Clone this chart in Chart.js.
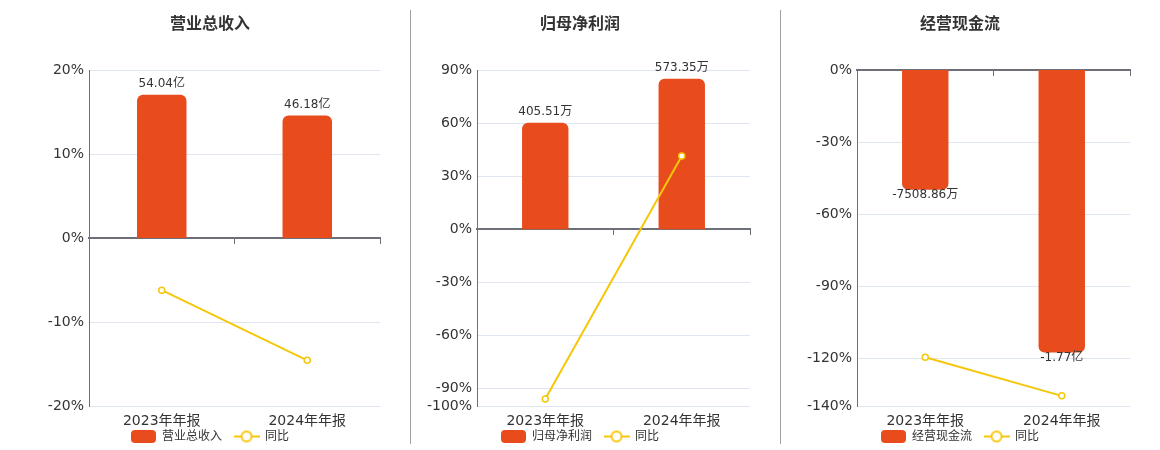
<!DOCTYPE html>
<html>
<head>
<meta charset="utf-8">
<script src="https://cdn.jsdelivr.net/npm/chart.js@4/dist/chart.umd.min.js"></script>
<style>
  body { margin: 0; background: #fff; overflow: hidden; }
  #wrap { position: relative; width: 1160px; height: 450px; overflow: hidden; }
  .panel { position: absolute; top: 0; }
  .sep { position: absolute; top: 10px; width: 1px; height: 434px; background: #a0a0a0; }
</style>
</head>
<body>
<div id="wrap">
  <div class="panel" style="left:36px"><canvas id="c1" width="350" height="471"></canvas></div>
  <div class="panel" style="left:406px"><canvas id="c2" width="350" height="471"></canvas></div>
  <div class="panel" style="left:786px"><canvas id="c3" width="350" height="471"></canvas></div>
  <div class="sep" style="left:410px"></div>
  <div class="sep" style="left:780px"></div>
</div>
<script>
// data
const categories = ['2023年年报', '2024年年报'];

const revenueValues = [54.04, 46.18];          // 亿
const revenueLabels = ['54.04亿', '46.18亿'];
const revenueYoy = [-6.2, -14.54];             // %
const revenueTicks = [-20, -10, 0, 10, 20];

const profitValues = [405.51, 573.35];         // 万
const profitLabels = ['405.51万', '573.35万'];
const profitYoy = [-95.9, 41.39];
const profitTicks = [-100, -90, -60, -30, 0, 30, 60, 90];

const cashValues = [-7508.86, -17700];         // 万
const cashLabels = ['-7508.86万', '-1.77亿'];
const cashYoy = [-119.6, -135.7];
const cashTicks = [-140, -120, -90, -60, -30, 0];

const BAR_COLOR = '#E84C1D';
const LINE_COLOR = '#F5C70A';
const AXIS_COLOR = '#6E7079';
const GRID_COLOR = '#E0E6F1';

Chart.defaults.font.family = '"DejaVu Sans", "Noto Sans CJK SC", sans-serif';
Chart.defaults.color = '#333';

// legend icons: rounded box for bars, line with hollow circle for 同比
function barIcon() {
  const c = document.createElement('canvas');
  c.width = 25; c.height = 13;
  const g = c.getContext('2d');
  g.fillStyle = BAR_COLOR;
  g.beginPath();
  g.roundRect(0, 0, 25, 13, 4);
  g.fill();
  return c;
}
function lineIcon() {
  const c = document.createElement('canvas');
  c.width = 26; c.height = 14;
  const g = c.getContext('2d');
  g.strokeStyle = LINE_COLOR;
  g.lineWidth = 2;
  g.beginPath();
  g.moveTo(0, 7); g.lineTo(26, 7);
  g.stroke();
  g.beginPath();
  g.arc(13, 7, 5, 0, Math.PI * 2);
  g.fillStyle = '#fff';
  g.fill();
  g.stroke();
  return c;
}
const icons = [barIcon(), lineIcon()];

// bar value text above (or below) each bar
const valueLabels = {
  id: 'valueLabels',
  afterDatasetsDraw(chart, args, opts) {
    const ctx = chart.ctx;
    const meta = chart.getDatasetMeta(0);
    const vals = chart.data.datasets[0].data;
    ctx.save();
    ctx.font = '12px "DejaVu Sans", "Noto Sans CJK SC", sans-serif';
    ctx.fillStyle = '#333';
    ctx.textAlign = 'center';
    meta.data.forEach((bar, i) => {
      if (vals[i] >= 0) {
        ctx.textBaseline = 'bottom';
        ctx.fillText(opts.labels[i], bar.x, bar.y - 5);
      } else {
        ctx.textBaseline = 'top';
        ctx.fillText(opts.labels[i], bar.x, bar.y - 1);
      }
    });
    ctx.restore();
  }
};

// pull the legend up closer to the category labels
const legendLift = {
  id: 'legendLift',
  afterLayout(chart) {
    chart.legend.top -= 18.5;
    chart.legend.bottom -= 18.5;
  }
};

function makePanel(canvasId, title, name, values, labels, yoy, ticks, perPct, yWidth) {
  const lo = ticks[0], hi = ticks[ticks.length - 1];
  return new Chart(document.getElementById(canvasId), {
    data: {
      labels: categories,
      datasets: [
        {
          type: 'bar',
          label: name,
          data: values,
          yAxisID: 'yb',
          backgroundColor: BAR_COLOR,
          borderRadius: 6,
          barPercentage: 0.34,
          categoryPercentage: 1,
          order: 1
        },
        {
          type: 'line',
          label: '同比',
          data: yoy,
          yAxisID: 'y',
          borderColor: LINE_COLOR,
          borderWidth: 2,
          pointRadius: 3,
          pointBackgroundColor: '#fff',
          pointBorderColor: LINE_COLOR,
          pointBorderWidth: 1.5,
          order: 0
        }
      ]
    },
    plugins: [valueLabels, legendLift],
    options: {
      responsive: false,
      animation: false,
      layout: { padding: { left: 4, right: 6, top: 0, bottom: 0 } },
      scales: {
        x: {
          type: 'category',
          offset: true,
          grid: { display: false, drawTicks: false },
          border: { display: false },
          ticks: { padding: 7, font: { size: 14 }, color: '#333' }
        },
        x2: {
          type: 'category',
          position: { y: 0 },
          offset: true,
          grid: { offset: true, drawOnChartArea: false, drawTicks: true, tickLength: 5, tickColor: AXIS_COLOR, tickWidth: 1 },
          border: { color: AXIS_COLOR, width: 2 },
          ticks: { display: false },
          z: 1
        },
        y: {
          position: 'left',
          min: lo,
          max: hi,
          grid: { color: GRID_COLOR, drawTicks: false },
          border: { color: AXIS_COLOR, width: 1 },
          ticks: {
            autoSkip: false,
            padding: 5,
            font: { size: 14 },
            color: '#333',
            callback: (v) => v + '%'
          },
          afterBuildTicks: (s) => { s.ticks = ticks.map(v => ({ value: v })); },
          afterFit: (s) => { s.width = yWidth; }
        },
        yb: {
          display: false,
          min: lo * perPct,
          max: hi * perPct
        }
      },
      plugins: {
        title: {
          display: true,
          text: title,
          color: '#333',
          font: { size: 16, weight: 'bold' },
          padding: { top: 15.4, bottom: 35.4 }
        },
        legend: {
          position: 'bottom',
          labels: {
            usePointStyle: true,
            pointStyleWidth: 25,
            boxHeight: 13,
            padding: 12,
            font: { size: 12 },
            color: '#333',
            sort: (a, b) => a.datasetIndex - b.datasetIndex,
            generateLabels: (chart) =>
              Chart.defaults.plugins.legend.labels.generateLabels(chart)
                .map(l => Object.assign(l, { pointStyle: icons[l.datasetIndex] }))
          }
        },
        tooltip: { enabled: false },
        valueLabels: { labels: labels }
      }
    }
  });
}

makePanel('c1', '营业总收入', '营业总收入', revenueValues, revenueLabels, revenueYoy, revenueTicks, 3.168, 49);
makePanel('c2', '归母净利润', '归母净利润', profitValues, profitLabels, profitYoy, profitTicks, 6.74, 67);
makePanel('c3', '经营现金流', '经营现金流', cashValues, cashLabels, cashYoy, cashTicks, 150.5, 67);
</script>
</body>
</html>
